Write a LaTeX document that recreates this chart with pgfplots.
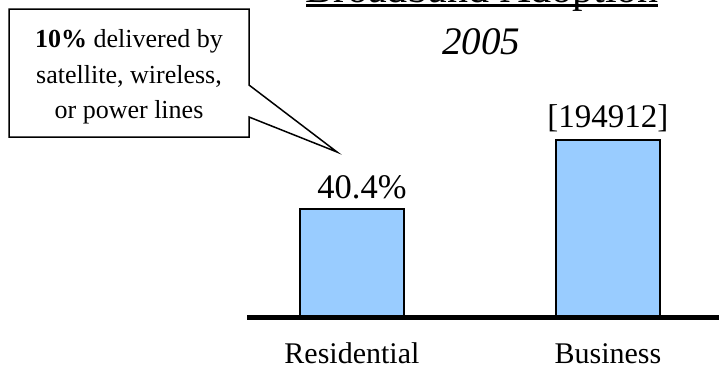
\documentclass[border=0pt]{standalone}
\usepackage{pgfplots}
\pgfplotsset{compat=1.18}
\usepackage{fontspec}
\setmainfont{Liberation Serif}
\definecolor{barblue}{RGB}{153,204,255}

\begin{document}
\begin{tikzpicture}[x=1pt,y=1pt]
\useasboundingbox (0,0) rectangle (719,368);

% title (set partly above the frame) with its underline
\node[anchor=base,inner sep=0pt,font=\fontsize{42}{48}\selectfont] at (482,366) {Broadband Adoption};
\draw[line width=2.5pt] (306,362.5) -- (658,362.5);
\node[anchor=base,inner sep=0pt,font=\fontsize{39}{46}\selectfont\itshape] at (481,314) {2005};

\begin{axis}[
  at={(247pt,51pt)}, anchor=south west,
  scale only axis, width=472pt, height=267.3pt,
  xmin=-0.41, xmax=1.434, ymin=0, ymax=100,
  axis y line=none, axis x line=bottom,
  x axis line style={-, line width=5pt},
  axis on top,
  xtick={0,1}, xticklabels={Residential,Business},
  major tick length=0pt,
  xticklabel style={font=\fontsize{30}{36}\selectfont, anchor=base, yshift=-46.5pt, inner sep=0pt},
  ybar, bar width=104pt,
  clip=false,
]
\addplot[fill=barblue, draw=black, line width=1.2pt] coordinates {(0,40.4) (1,66.2)};
\node[anchor=base, inner sep=0pt, yshift=11pt, xshift=10pt, font=\fontsize{34.5}{40}\selectfont] at (axis cs:0,40.4) {40.4\%};
\node[anchor=base, inner sep=0pt, yshift=13pt, font=\fontsize{33}{40}\selectfont] at (axis cs:1,66.2) {[194912]};
\end{axis}

% callout box with its pointer
\draw[line width=1.5pt, fill=white, line join=miter]
  (9,359) -- (249,359) -- (249,283) -- (337,216) -- (249,251) -- (249,231) -- (9,231) -- cycle;
\begin{scope}[every node/.style={anchor=base, inner sep=0pt, font=\fontsize{26}{32}\selectfont}]
\node at (129,321) {\textbf{10\%} delivered by};
\node at (129,285) {satellite, wireless,};
\node at (129,250) {or power lines};
\end{scope}
\end{tikzpicture}
\end{document}
